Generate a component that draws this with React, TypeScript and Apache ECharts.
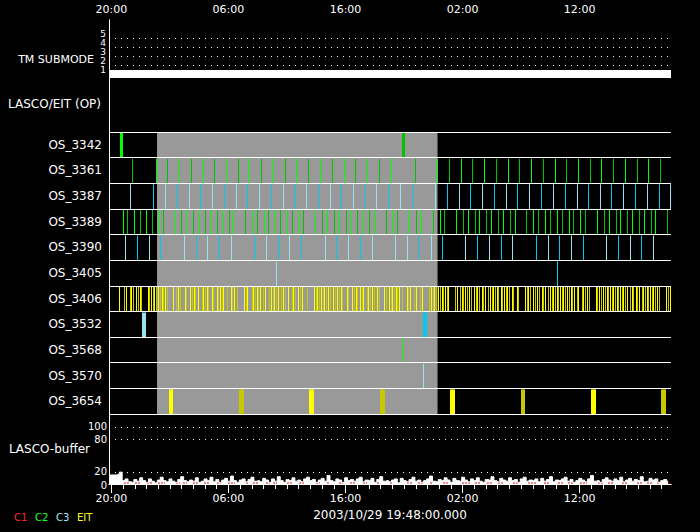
import React, { useEffect, useRef } from 'react';
import * as echarts from 'echarts';

// ---------- data ----------
const START_LABEL = '2003/10/29 19:48:00.000';
const START_CLOCK_HOUR = 19.8; // clock hour at the window start (19:48)
const SPAN_HOURS = 48; // elapsed hours shown
const TIME_LABELS = [0.2, 10.2, 20.2, 30.2, 40.2]; // elapsed hours of 20:00, 06:00, 16:00, 02:00, 12:00
const HOUR_TICKS = Array.from({ length: 48 }, (_, i) => i + 0.2);

const SUBMODE_LEVELS = [1, 2, 3, 4, 5];
const SUBMODE_GRID = [2, 3, 4, 5];
const SUBMODE_DATA = [[0, 1], [48, 1]];

const ROWS = ['OS_3342', 'OS_3361', 'OS_3387', 'OS_3389', 'OS_3390', 'OS_3405', 'OS_3406', 'OS_3532', 'OS_3568', 'OS_3570', 'OS_3654'];
const GRAY_WINDOW = [4.10, 28.06];

const OS_3342 = [[0.94, 0.26, 'g'], [25.02, 0.26, 'G']];
const OS_3361 = [1.99, 4.01, 4.98, 6.00, 7.03, 8.05, 8.99, 10.02, 11.04, 11.98, 13.01, 14.03, 15.06, 16.00, 17.02, 18.05, 19.07, 20.03, 21.04, 22.06, 23.09, 24.03, 26.11, 28.04, 29.07, 30.09, 31.03, 32.05, 33.08, 34.10, 35.04, 36.07, 37.09, 38.12, 39.06, 40.08, 41.11, 42.05, 43.07, 44.10, 45.12, 46.06, 47.09];
const OS_3387 = [1.82, 3.78, 4.81, 5.83, 6.81, 7.80, 8.82, 9.85, 10.85, 11.81, 12.84, 13.86, 14.86, 15.83, 16.85, 17.88, 18.85, 19.84, 20.87, 21.81, 22.83, 23.86, 24.88, 25.88, 27.87, 28.89, 29.87, 30.86, 31.88, 32.91, 33.88, 34.87, 35.90, 36.87, 37.90, 38.92, 39.95, 40.91, 41.91, 42.90, 43.93, 44.90, 45.92, 46.95, 47.94];
const OS_3389 = [1.22, 1.56, 2.16, 2.62, 3.19, 3.65, 4.21, 4.64, 5.58, 6.18, 6.60, 7.20, 7.63, 8.22, 8.65, 9.25, 9.63, 10.22, 10.62, 11.64, 12.24, 12.67, 13.26, 13.61, 14.20, 14.63, 15.23, 15.66, 16.25, 16.60, 17.62, 18.22, 18.65, 19.24, 19.67, 20.27, 20.61, 21.21, 21.63, 22.23, 22.66, 23.68, 24.28, 24.62, 25.65, 26.25, 26.67, 27.70, 28.30, 28.64, 29.66, 30.26, 30.69, 31.29, 31.63, 32.23, 32.65, 33.25, 33.68, 34.28, 34.70, 35.64, 36.24, 36.67, 37.26, 37.69, 38.29, 38.72, 39.31, 39.66, 40.25, 40.68, 41.71, 42.30, 42.73, 43.33, 43.67, 44.27, 44.70, 45.29, 45.72, 46.32, 46.66, 47.68];
const OS_3390 = [[1.39, 'l'], [2.42, 'c'], [3.44, 'l'], [4.38, 'c'], [6.43, 'l'], [7.46, 'c'], [8.40, 'l'], [9.42, 'c'], [10.45, 'l'], [12.41, 'c'], [13.43, 'l'], [14.46, 'c'], [15.40, 'l'], [16.42, 'c'], [18.47, 'l'], [19.41, 'c'], [20.44, 'l'], [21.46, 'c'], [22.49, 'l'], [24.45, 'l'], [25.48, 'l'], [26.42, 'c'], [27.46, 'l'], [28.47, 'c'], [30.43, 'l'], [31.46, 'c'], [32.48, 'l'], [33.51, 'c'], [34.45, 'l'], [36.50, 'c'], [37.52, 'l'], [38.46, 'c'], [39.48, 'l'], [40.51, 'c'], [42.48, 'l'], [43.50, 'c'], [44.52, 'l'], [45.46, 'c'], [46.49, 'l']];
const OS_3405 = [[14.29, 0, 'l'], [38.29, 0, 'c']];
const OS_3406 = [0.88, 1.31, 1.45, 1.77, 1.90, 2.05, 2.33, 2.48, 2.62, 2.76, 3.31, 3.44, 3.59, 3.73, 3.87, 3.99, 4.21, 4.36, 4.50, 4.64, 4.78, 4.93, 5.47, 5.75, 5.89, 6.04, 6.47, 6.60, 6.94, 7.09, 7.23, 7.37, 7.63, 7.92, 8.05, 8.20, 8.34, 8.48, 8.77, 8.91, 9.20, 9.34, 9.48, 9.63, 9.76, 10.05, 10.39, 10.53, 10.68, 10.96, 11.53, 11.68, 11.81, 12.19, 12.32, 12.47, 12.62, 12.75, 12.90, 13.18, 13.32, 13.69, 13.84, 13.98, 14.12, 14.26, 14.41, 14.69, 14.89, 15.03, 15.31, 15.60, 15.74, 15.89, 16.17, 16.31, 16.46, 16.89, 17.51, 17.65, 17.79, 17.94,
  18.11, 18.25, 18.39, 18.53, 18.68, 18.88, 19.16, 19.30, 19.50, 19.64, 19.79, 19.93, 20.30, 20.44, 20.78, 20.93, 21.07, 21.21, 21.44, 21.58, 21.72, 22.01, 22.15, 22.29, 22.49, 22.63, 22.92, 23.06, 23.49, 23.63, 23.91, 24.06, 24.20, 24.34, 24.49, 24.62, 24.77, 25.00, 25.43, 25.56, 25.71, 26.08, 26.22, 26.56, 26.71, 27.36,
  27.50, 27.65, 27.78, 27.93, 28.07, 28.27, 28.42, 28.55, 28.70, 28.84, 28.98, 29.55, 29.70, 29.98, 30.12, 30.26, 30.41, 30.60, 30.75, 30.89, 31.17, 31.32, 31.46, 31.60, 31.83, 31.97, 32.11, 32.40, 32.54, 32.69, 32.82, 32.97, 33.11, 33.25, 33.46, 33.59, 33.74, 33.88, 34.02, 34.16, 34.39, 34.53, 34.82, 34.96, 35.53, 35.68, 35.81, 35.96, 36.24, 36.38, 36.53, 36.73, 36.96, 37.09, 37.24, 37.52, 37.67, 37.81, 37.95, 38.09, 38.24, 38.38, 38.52, 38.67, 38.80, 38.95, 39.14, 39.29, 39.43, 39.57, 39.72, 39.95, 40.08, 40.37, 40.51, 40.66, 40.80, 41.00, 41.57, 41.71, 41.85, 42.00, 42.22, 42.36, 42.51, 42.65, 42.79, 42.94, 43.07, 43.22, 43.36, 43.50, 43.64, 43.79, 43.93, 44.07, 44.22, 44.50, 44.64, 44.78, 44.99, 45.12, 45.27, 45.50, 45.64, 45.78, 45.93, 46.06, 46.21, 46.35, 46.49, 46.63, 46.78, 46.98, 47.60, 47.74, 47.89];
const OS_3532 = [[2.82, 0.34, 'l'], [26.82, 0.34, 'c']];
const OS_3568 = [[25.05, 0, 'g']];
const OS_3570 = [[26.84, 0, 'l']];
const OS_3654 = [[5.12, 0.35, 'y'], [11.10, 0.40, 'o'], [17.08, 0.43, 'y'], [23.15, 0.42, 'o'], [29.12, 0.43, 'y'], [35.19, 0.34, 'o'], [41.17, 0.42, 'y'], [47.15, 0.42, 'o']];

const BUFFER_STEP = 0.25;
const BUFFER = [
  16, 16, 16, 17, 21, 6, 9, 4, 3, 8, 5, 11, 6, 3, 9, 5, 2, 7, 12, 6, 4, 9, 5, 3,
  8, 13, 6, 4, 7, 5, 11, 3, 5, 9, 6, 12, 4, 8, 3, 7, 10, 5, 14, 6, 3, 7, 9, 4,
  8, 12, 5, 6, 4, 10, 7, 3, 9, 5, 13, 6, 3, 8, 6, 11, 5, 7, 4, 9, 12, 6, 8, 3,
  7, 10, 5, 15, 6, 4, 9, 7, 3, 11, 6, 8, 5, 9, 12, 4, 7, 6, 10, 3, 8, 13, 5, 6,
  4, 7, 9, 2, 10, 6, 4, 8, 12, 5, 7, 3, 6, 9, 14, 5, 4, 8, 6, 11, 7, 3, 10, 6,
  5, 12, 7, 4, 9, 6, 11, 5, 3, 8, 7, 13, 6, 4, 10, 7, 5, 11, 6, 8, 3, 9, 12, 5,
  7, 6, 9, 4, 10, 5, 8, 13, 4, 7, 6, 9, 12, 5, 8, 3, 6, 10, 7, 4, 9, 15, 5, 6,
  3, 8, 11, 7, 5, 9, 6, 12, 4, 7, 10, 5, 8, 6, 13, 4, 5, 10, 7, 9, 3, 6, 8, 5];
const BUFFER_LINES = [20, 80, 100];
const BUFFER_LABELS_UPPER = [20, 100]; // labels nudged up slightly
const BUFFER_LABELS_LOWER = [0, 80];   // labels nudged down slightly
const BUFFER_MAX = 124;
const RED_MARKS = [[1.28, 1.71], [2.22, 2.65], [3.25, 3.76], [4.19, 4.78], [5.72, 6.06], [6.32, 6.66], [7.17, 7.60], [8.11, 8.63], [9.22, 9.57], [10.16, 10.76], [11.70, 11.96], [12.30, 12.73], [13.41, 13.75], [14.01, 14.35], [15.20, 15.63], [16.23, 16.74], [17.68, 18.02], [18.62, 18.87], [19.64, 19.99], [20.58, 21.01], [21.69, 22.04], [22.89, 23.15], [24.00, 24.26], [25.45, 25.88], [26.39, 26.82], [27.42, 27.67], [28.53, 28.95], [30.15, 30.83], [31.26, 31.69], [32.28, 32.71], [33.22, 33.65], [34.51, 34.93], [35.79, 36.56], [37.15, 37.67], [38.35, 38.78], [39.20, 39.63], [40.23, 40.83], [41.77, 42.19], [42.62, 43.05], [43.82, 44.24], [45.10, 45.53], [45.95, 46.46], [46.80, 47.06], [47.74, 48.0]];

const LEGEND = [['C1', '#ff2a2a'], ['C2', '#22ff22'], ['C3', '#a8e6f2'], ['EIT', '#ffff22']];

// ---------- styling ----------
const COLOR_CODES = 'gGclyo';
const COLOR_VALUES = ['#00ff00', '#00c400', '#00c8f0', '#98e2ee', '#ffff00', '#c8c800'];
const FONT = 'DejaVu Sans';
const L = 109, W = 562;

type Ev = [number, number, string];
const alt = (times: number[], a: string, b: string): Ev[] => times.map((t, i) => [t, 0, i % 2 ? b : a]);

const ROW_EVENTS: Ev[][] = [
  OS_3342 as Ev[],
  alt(OS_3361, 'G', 'g'),
  alt(OS_3387, 'l', 'c'),
  alt(OS_3389, 'g', 'G'),
  OS_3390.map(([t, c]) => [t as number, 0, c as string] as Ev),
  OS_3405 as Ev[],
  alt(OS_3406, 'y', 'o'),
  OS_3532 as Ev[],
  OS_3568 as Ev[],
  OS_3570 as Ev[],
  OS_3654 as Ev[],
];

const clock = (v: number) => {
  const h = Math.round((START_CLOCK_HOUR + v) % 24) % 24;
  return (h < 10 ? '0' : '') + h + ':00';
};

const bufferAxis = (values: number[], padding: number[]) => ({
  type: 'value', gridIndex: 3, min: 0, max: BUFFER_MAX, position: 'left',
  axisLine: { show: false }, axisTick: { show: false }, splitLine: { show: false },
  axisLabel: {
    show: true, customValues: values, showMinLabel: true, showMaxLabel: true, hideOverlap: false,
    margin: 2, formatter: (v: number) => `{t|${v}}`,
    rich: { t: { fontSize: 10, lineHeight: 10, color: '#fff', fontFamily: FONT, padding } },
  },
});

function buildOption(): any {
  const eventData: number[][] = [];
  ROW_EVENTS.forEach((evs, row) => evs.forEach(([t, d, c]) => eventData.push([t, d, row, COLOR_CODES.indexOf(c)])));

  const hidX = (gi: number) => ({ type: 'value', gridIndex: gi, min: 0, max: SPAN_HOURS, show: false });

  return {
    animation: false,
    backgroundColor: '#000',
    textStyle: { fontFamily: FONT },
    grid: [
      { left: L, width: W, top: 20, height: 464 },
      { left: L, width: W, top: 20, height: 57 },
      { left: L, width: W, top: 132, height: 282 },
      { left: L, width: W, top: 414, height: 70 },
    ],
    xAxis: [
      { type: 'value', gridIndex: 0, position: 'top', min: 0, max: SPAN_HOURS,
        axisLine: { show: true, lineStyle: { color: '#fff', width: 1 } },
        axisTick: { show: true, inside: true, length: 5, customValues: HOUR_TICKS, lineStyle: { color: '#fff' } },
        axisLabel: { show: false }, splitLine: { show: false } },
      { type: 'value', gridIndex: 0, position: 'top', min: 0, max: SPAN_HOURS,
        axisLine: { show: false },
        axisTick: { show: true, inside: true, length: 9, customValues: TIME_LABELS, lineStyle: { color: '#fff' } },
        axisLabel: { show: true, customValues: TIME_LABELS, formatter: clock, color: '#fff', fontSize: 11, margin: 5, fontFamily: FONT },
        splitLine: { show: false } },
      { type: 'value', gridIndex: 0, position: 'bottom', min: 0, max: SPAN_HOURS,
        axisLine: { show: true, lineStyle: { color: '#fff', width: 1 } },
        axisTick: { show: false },
        axisLabel: { show: true, customValues: TIME_LABELS, formatter: clock, color: '#fff', fontSize: 11, margin: 9, fontFamily: FONT },
        splitLine: { show: false },
        name: START_LABEL, nameLocation: 'middle', nameGap: 24,
        nameTextStyle: { color: '#fff', fontSize: 12, fontFamily: FONT } },
      hidX(1), hidX(2), hidX(3),
    ],
    yAxis: [
      { type: 'value', gridIndex: 0, position: 'left', min: 0, max: 1,
        axisLine: { show: true, lineStyle: { color: '#fff' } }, axisTick: { show: false }, axisLabel: { show: false }, splitLine: { show: false } },
      { type: 'value', gridIndex: 0, position: 'right', min: 0, max: 1,
        axisLine: { show: true, lineStyle: { color: '#fff' } }, axisTick: { show: false }, axisLabel: { show: false }, splitLine: { show: false } },
      { type: 'value', gridIndex: 1, min: 0.667, max: 7,
        axisLine: { show: false }, axisTick: { show: false }, splitLine: { show: false },
        axisLabel: { show: true, customValues: SUBMODE_LEVELS, color: '#fff', fontSize: 9, lineHeight: 9, margin: 3, verticalAlign: 'bottom', fontFamily: FONT } },
      { type: 'value', gridIndex: 2, min: 0, max: ROWS.length, interval: 1, inverse: true, z: 5,
        axisLine: { show: false }, axisTick: { show: false },
        splitLine: { show: true, lineStyle: { color: '#fff', width: 1 } },
        axisLabel: { show: true, customValues: ROWS.map((_, i) => i + 0.5), formatter: (v: number) => ROWS[Math.floor(v)],
          color: '#fff', fontSize: 12, margin: 7, fontFamily: FONT } },
      bufferAxis(BUFFER_LABELS_UPPER, [0, 0, 2, 0]),
      bufferAxis(BUFFER_LABELS_LOWER, [2, 0, 0, 0]),
    ],
    graphic: [
      { type: 'text', x: 94, y: 59, style: { text: 'TM SUBMODE', fill: '#fff', font: `11px "${FONT}"`, align: 'right', verticalAlign: 'middle' } },
      { type: 'text', x: 101, y: 104, style: { text: 'LASCO/EIT (OP)', fill: '#fff', font: `12px "${FONT}"`, align: 'right', verticalAlign: 'middle' } },
      { type: 'text', x: 90, y: 449, style: { text: 'LASCO-buffer', fill: '#fff', font: `12px "${FONT}"`, align: 'right', verticalAlign: 'middle' } },
      ...LEGEND.map(([t, c], i) => ({ type: 'text', x: 14 + i * 21, y: 517, style: { text: t, fill: c, font: `10px "${FONT}"`, align: 'left', verticalAlign: 'middle' } })),
    ],
    series: [
      { type: 'line', xAxisIndex: 3, yAxisIndex: 2, data: SUBMODE_DATA, symbol: 'none', clip: false,
        lineStyle: { color: '#fff', width: 8, cap: 'butt' },
        markLine: { silent: true, symbol: 'none', label: { show: false }, animation: false,
          lineStyle: { color: '#fff', width: 1, type: [1, 5] }, data: SUBMODE_GRID.map(v => ({ yAxis: v })) } },
      { type: 'custom', xAxisIndex: 4, yAxisIndex: 3, z: 1, clip: true, data: [GRAY_WINDOW],
        renderItem: (_p: any, api: any) => {
          const a = api.coord([api.value(0), 0]);
          const b = api.coord([api.value(1), ROWS.length]);
          return { type: 'rect', shape: { x: a[0], y: a[1], width: b[0] - a[0], height: b[1] - a[1] }, style: { fill: '#999999' } };
        } },
      { type: 'custom', xAxisIndex: 4, yAxisIndex: 3, z: 2, clip: true, data: eventData,
        encode: { x: 0, y: 2 },
        renderItem: (_p: any, api: any) => {
          const t = api.value(0), d = api.value(1), row = api.value(2), ci = api.value(3);
          const a = api.coord([t, row]);
          const b = api.coord([t + d, row + 1]);
          const x = Math.round(a[0]);
          const w = Math.max(1, Math.round(b[0] - a[0]));
          return { type: 'rect', shape: { x, y: a[1] + 1, width: w, height: b[1] - a[1] - 1 }, style: { fill: COLOR_VALUES[ci] } };
        } },
      { type: 'line', xAxisIndex: 5, yAxisIndex: 4, step: 'middle', symbol: 'none',
        data: BUFFER.map((v, i) => [i * BUFFER_STEP, v]),
        lineStyle: { color: '#fff', width: 1 }, areaStyle: { color: '#fff', opacity: 1 },
        markLine: { silent: true, symbol: 'none', label: { show: false }, animation: false,
          lineStyle: { color: '#fff', width: 1, type: [1, 5] }, data: BUFFER_LINES.map(v => ({ yAxis: v })) } },
      { type: 'custom', xAxisIndex: 5, yAxisIndex: 4, z: 3, clip: true, data: RED_MARKS,
        renderItem: (_p: any, api: any) => {
          const a = api.coord([api.value(0), 0]);
          const b = api.coord([api.value(1), 0]);
          return { type: 'line', shape: { x1: a[0], y1: a[1] - 1, x2: b[0], y2: b[1] - 1 },
            style: { stroke: '#dd1111', lineWidth: 1, lineDash: [2, 1] } };
        } },
    ],
  };
}

export default function App() {
  const ref = useRef<HTMLDivElement>(null);
  useEffect(() => {
    if (!ref.current) return;
    const chart = echarts.init(ref.current, null, { renderer: 'svg' });
    chart.setOption(buildOption());
    return () => chart.dispose();
  }, []);
  return <div ref={ref} style={{ position: 'fixed', left: 0, top: 0, width: 700, height: 532, background: '#000' }} />;
}
